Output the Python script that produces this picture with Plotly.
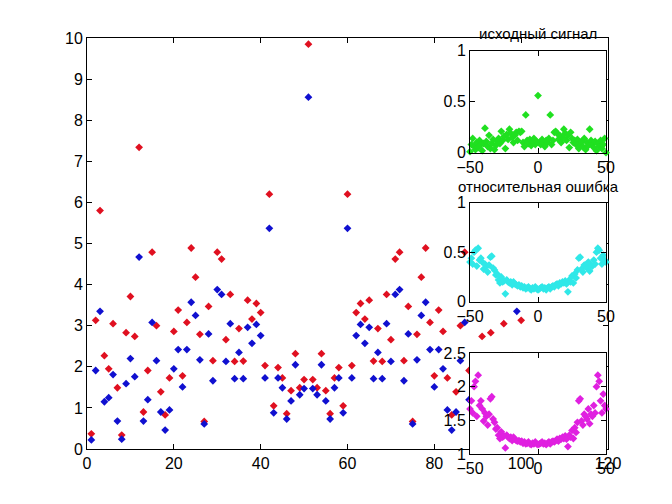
import plotly.graph_objects as go

# ---- data ----
x_main = list(range(1, 102))
red_vals = [0.37, 3.13, 5.80, 2.27, 1.95, 3.05, 1.49, 0.34, 2.83, 3.71,
            2.74, 7.34, 0.90, 1.91, 4.79, 3.00, 1.39, 0.83, 1.73, 2.86,
            3.38, 1.78, 3.08, 4.89, 4.18, 2.79, 0.67, 3.47, 2.15, 4.79,
            4.62, 2.66, 3.76, 2.13, 2.93, 2.14, 3.62, 3.16, 3.54, 3.32,
            2.03, 6.20, 1.05, 1.98, 1.73, 0.86, 1.42, 2.32, 1.49, 1.69,
            9.85,
            1.69, 1.49, 2.32, 1.42, 0.86, 1.73, 1.98, 1.05, 6.20, 2.03,
            3.32, 3.54, 3.16, 3.62, 2.14, 2.93, 2.13, 3.76, 2.66, 4.62,
            4.79, 2.15, 3.47, 0.67, 2.79, 4.18, 4.89, 3.08, 1.78, 3.38,
            2.86, 1.73, 0.83, 1.39, 3.00, 4.79, 1.91, 0.90, 7.34, 2.74,
            3.71, 2.83, 0.34, 1.49, 3.05, 1.95, 2.27, 5.80, 3.13, 0.37]
blue_vals = [0.22, 1.91, 3.35, 1.15, 1.25, 1.81, 0.68, 0.24, 1.59, 2.20,
             1.76, 4.67, 0.68, 1.20, 3.08, 2.15, 0.90, 0.46, 0.95, 1.95,
             2.42, 1.51, 2.42, 3.57, 3.25, 2.17, 0.61, 2.80, 1.66, 3.88,
             3.76, 2.13, 3.05, 1.71, 2.35, 1.71, 2.96, 2.57, 3.03, 2.76,
             1.73, 5.37, 0.88, 1.73, 1.49, 0.73, 1.17, 2.05, 1.32, 1.47,
             8.56,
             1.47, 1.32, 2.05, 1.17, 0.73, 1.49, 1.73, 0.88, 5.37, 1.73,
             2.76, 3.03, 2.57, 2.96, 1.71, 2.35, 1.71, 3.05, 2.13, 3.76,
             3.88, 1.66, 2.80, 0.61, 2.17, 3.25, 3.57, 2.42, 1.51, 2.42,
             1.95, 0.95, 0.46, 0.90, 2.15, 3.08, 1.20, 0.68, 4.67, 1.76,
             2.20, 1.59, 0.24, 0.68, 1.81, 1.25, 1.15, 3.35, 1.91, 0.22]

x_inset = list(range(-50, 51))
green_vals = [0.01, 0.08, 0.14, 0.06, 0.03, 0.10, 0.05, 0.12, 0.08, 0.02,
              0.09, 0.24, 0.11, 0.06, 0.17, 0.04, 0.09, 0.13, 0.03, 0.07,
              0.11, 0.14, 0.09, 0.21, 0.12, 0.16, 0.04, 0.18, 0.13, 0.23,
              0.19, 0.15, 0.10, 0.17, 0.20, 0.12, 0.21, 0.20, 0.21, 0.10,
              0.06, 0.37, 0.12, 0.09, 0.13, 0.07, 0.11, 0.14, 0.08, 0.11,
              0.56,
              0.10, 0.08, 0.13, 0.10, 0.06, 0.12, 0.10, 0.14, 0.37, 0.08,
              0.12, 0.20, 0.21, 0.19, 0.13, 0.17, 0.10, 0.15, 0.23, 0.19,
              0.12, 0.17, 0.05, 0.20, 0.14, 0.10, 0.12, 0.08, 0.13, 0.04,
              0.09, 0.11, 0.06, 0.14, 0.03, 0.10, 0.07, 0.23, 0.12, 0.08,
              0.05, 0.11, 0.02, 0.09, 0.06, 0.12, 0.04, 0.08, 0.14, 0.00]
cyan_vals = [0.40, 0.44, 0.38, 0.50, 0.52, 0.36, 0.54, 0.42, 0.44, 0.40,
             0.33, 0.38, 0.36, 0.30, 0.37, 0.45, 0.46, 0.34, 0.32, 0.27,
             0.28, 0.22, 0.19, 0.25, 0.20, 0.21, 0.08, 0.22, 0.20, 0.19,
             0.20, 0.17, 0.20, 0.18, 0.17, 0.16, 0.17, 0.15, 0.16, 0.14,
             0.15, 0.13, 0.14, 0.15, 0.13, 0.12, 0.14, 0.13, 0.15, 0.13,
             0.12,
             0.13, 0.14, 0.15, 0.13, 0.14, 0.12, 0.14, 0.15, 0.13, 0.15,
             0.16, 0.15, 0.17, 0.18, 0.16, 0.19, 0.18, 0.20, 0.19, 0.21,
             0.18, 0.10, 0.22, 0.20, 0.26, 0.19, 0.28, 0.24, 0.32, 0.44,
             0.45, 0.33, 0.30, 0.37, 0.36, 0.34, 0.40, 0.31, 0.37, 0.36,
             0.42, 0.38, 0.50, 0.54, 0.52, 0.44, 0.38, 0.47, 0.42, 0.40]
magenta_vals = [1.67, 1.79, 1.61, 2.00, 2.08, 1.56, 2.17, 1.72, 1.79, 1.67,
                1.49, 1.61, 1.56, 1.43, 1.59, 1.82, 1.85, 1.52, 1.47, 1.37,
                1.39, 1.28, 1.23, 1.33, 1.25, 1.27, 1.09, 1.28, 1.25, 1.23,
                1.25, 1.20, 1.25, 1.22, 1.20, 1.19, 1.20, 1.18, 1.19, 1.16,
                1.18, 1.15, 1.16, 1.18, 1.15, 1.14, 1.16, 1.15, 1.18, 1.15,
                1.14,
                1.15, 1.16, 1.18, 1.15, 1.16, 1.14, 1.16, 1.18, 1.15, 1.18,
                1.19, 1.18, 1.20, 1.22, 1.19, 1.23, 1.22, 1.25, 1.23, 1.27,
                1.22, 1.11, 1.28, 1.25, 1.35, 1.23, 1.39, 1.32, 1.47, 1.79,
                1.82, 1.49, 1.43, 1.59, 1.56, 1.52, 1.67, 1.45, 1.59, 1.56,
                1.72, 1.61, 2.00, 2.17, 2.08, 1.79, 1.61, 1.89, 1.72, 1.67]

main_xticks = [0, 20, 40, 60, 80, 100, 120]
main_yticks = list(range(0, 11))
inset_xticks = [-50, 0, 50]
title1 = "исходный сигнал"
title2 = "относительная ошибка"

W, H = 672, 504
FONT = dict(family="Liberation Sans, Arial, sans-serif", size=16, color="black")
TFONT = dict(family="Liberation Sans, Arial, sans-serif", size=15, color="black")

def px_x(p):
    return p / W

def px_y(p):
    return 1 - p / H

fig = go.Figure()

mk = dict(symbol="diamond", size=6, line=dict(width=0))
fig.add_trace(go.Scatter(x=x_main, y=red_vals, mode="markers",
                         marker=dict(color="#e01020", **mk), xaxis="x", yaxis="y", cliponaxis=False))
fig.add_trace(go.Scatter(x=x_main, y=blue_vals, mode="markers",
                         marker=dict(color="#1010d0", **mk), xaxis="x", yaxis="y", cliponaxis=False))
fig.add_trace(go.Scatter(x=x_inset, y=green_vals, mode="markers",
                         marker=dict(color="#20e020", **mk), xaxis="x2", yaxis="y2", cliponaxis=False))
fig.add_trace(go.Scatter(x=x_inset, y=cyan_vals, mode="markers",
                         marker=dict(color="#30e8e8", **mk), xaxis="x3", yaxis="y3", cliponaxis=False))
fig.add_trace(go.Scatter(x=x_inset, y=magenta_vals, mode="markers",
                         marker=dict(color="#e020e0", **mk), xaxis="x4", yaxis="y4", cliponaxis=False))

ax_common = dict(showline=True, linecolor="black", linewidth=1, mirror="ticks",
                 ticks="inside", ticklen=5, tickcolor="black", showgrid=False,
                 zeroline=False, tickfont=FONT, fixedrange=True, automargin=False)

main_x = [px_x(87), px_x(608)]
main_y = [px_y(449), px_y(38)]
in_x = [px_x(470), px_x(606)]
in1_y = [px_y(152.7), px_y(50.7)]
in2_y = [px_y(301.7), px_y(202.7)]
in3_y = [px_y(454), px_y(353)]

fig.update_layout(
    template="none",
    width=W, height=H,
    margin=dict(l=0, r=0, t=0, b=0, pad=0),
    paper_bgcolor="white", plot_bgcolor="white",
    showlegend=False,
    xaxis=dict(domain=main_x, range=[0, 120], tickvals=main_xticks, anchor="y", **ax_common),
    yaxis=dict(domain=main_y, range=[0, 10], tickvals=main_yticks, anchor="x", **ax_common),
    xaxis2=dict(domain=in_x, range=[-50, 50], tickvals=inset_xticks, anchor="y2", **ax_common),
    yaxis2=dict(domain=in1_y, range=[0, 1], tickvals=[0, 0.5, 1], anchor="x2", **ax_common),
    xaxis3=dict(domain=in_x, range=[-50, 50], tickvals=inset_xticks, anchor="y3", **ax_common),
    yaxis3=dict(domain=in2_y, range=[0, 1], tickvals=[0, 0.5, 1], anchor="x3", **ax_common),
    xaxis4=dict(domain=in_x, range=[-50, 50], tickvals=inset_xticks, anchor="y4", **ax_common),
    yaxis4=dict(domain=in3_y, range=[1, 2.5], tickvals=[1, 1.5, 2, 2.5], anchor="x4", **ax_common),
    annotations=[
        dict(text=title1, x=(in_x[0] + in_x[1]) / 2, y=in1_y[1], xref="paper", yref="paper",
             xanchor="center", yanchor="bottom", yshift=7, showarrow=False, font=TFONT),
        dict(text=title2, x=(in_x[0] + in_x[1]) / 2, y=in2_y[1], xref="paper", yref="paper",
             xanchor="center", yanchor="bottom", yshift=6, showarrow=False, font=TFONT),
    ],
)

fig.write_html("out.html", config={"displayModeBar": False},
               post_script="document.body.style.margin='0';document.body.style.padding='0';")
